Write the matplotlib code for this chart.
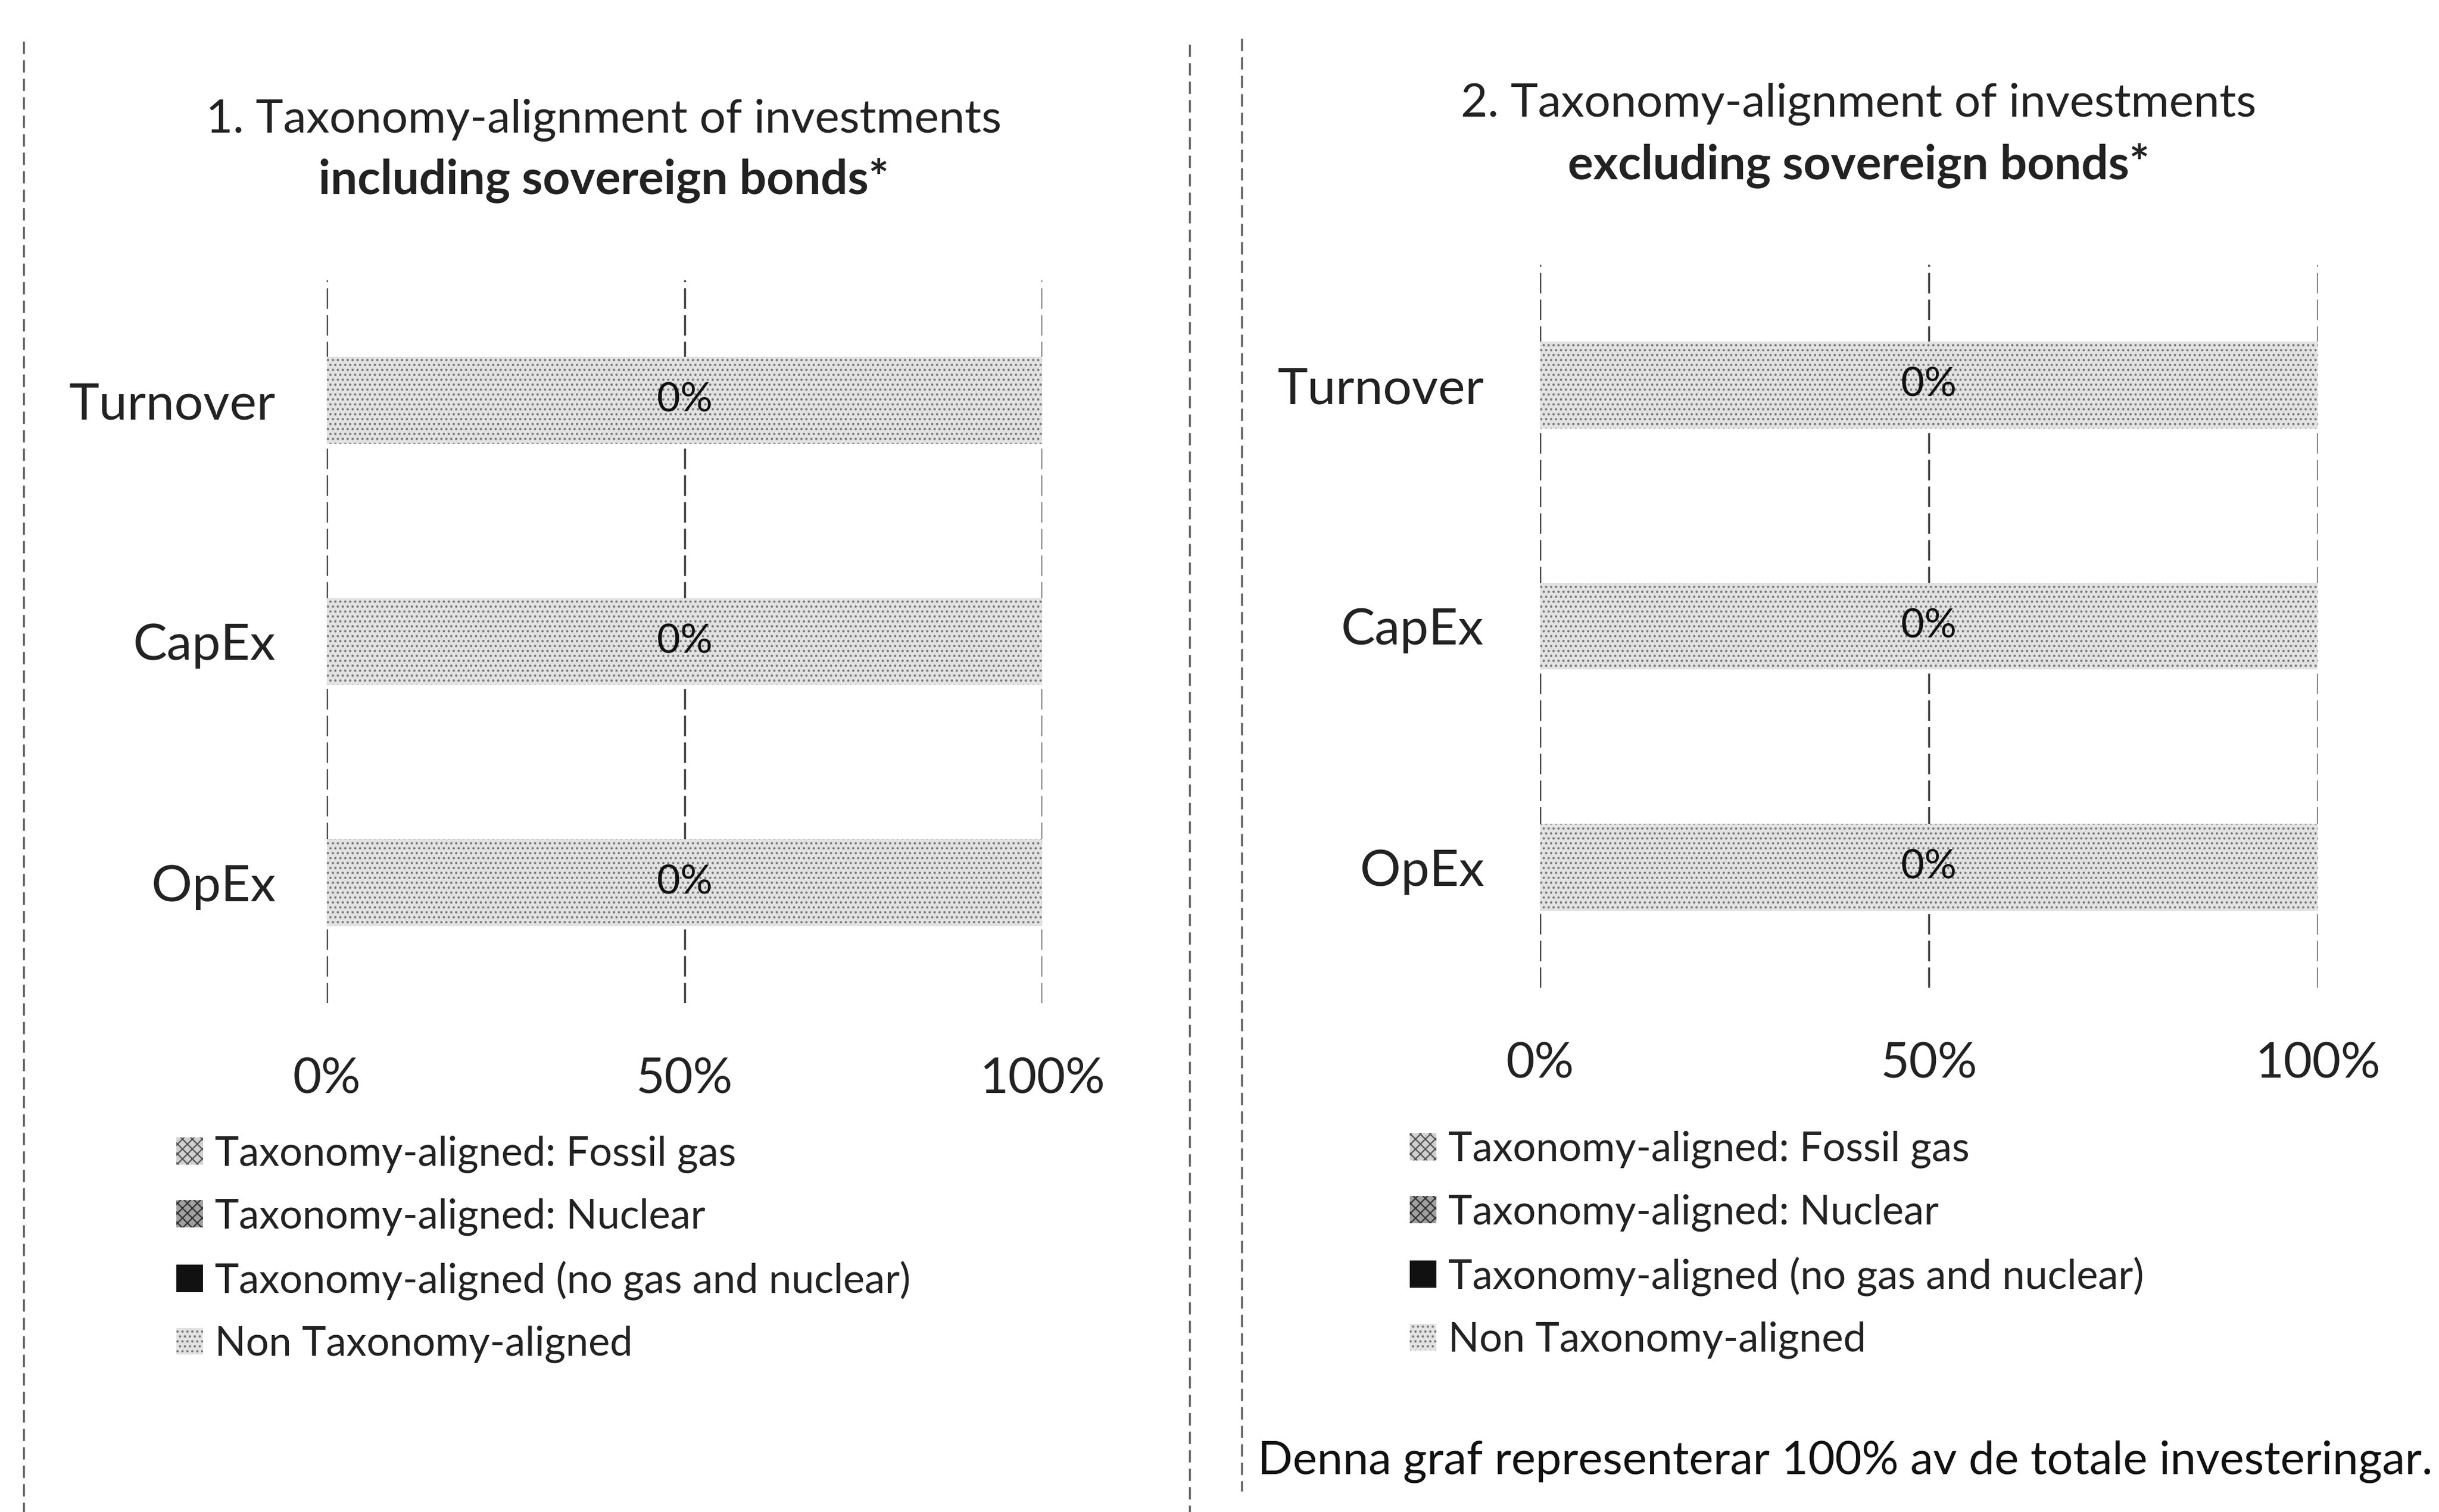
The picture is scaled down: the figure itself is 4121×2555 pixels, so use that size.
import numpy as np
import matplotlib.pyplot as plt
from matplotlib.lines import Line2D

plt.rcParams['font.family'] = ['Lato', 'DejaVu Sans']
plt.rcParams['hatch.linewidth'] = 1.6

categories = ['Turnover', 'CapEx', 'OpEx']
series_names = ['Taxonomy-aligned: Fossil gas', 'Taxonomy-aligned: Nuclear',
                'Taxonomy-aligned (no gas and nuclear)', 'Non Taxonomy-aligned']

# percentages, including sovereign bonds
gas_incl = [0, 0, 0]
nuclear_incl = [0, 0, 0]
aligned_incl = [0, 0, 0]
non_aligned_incl = [100, 100, 100]

# percentages, excluding sovereign bonds
gas_excl = [0, 0, 0]
nuclear_excl = [0, 0, 0]
aligned_excl = [0, 0, 0]
non_aligned_excl = [100, 100, 100]

titles = [('1. Taxonomy-alignment of investments', 'including sovereign bonds*'),
          ('2. Taxonomy-alignment of investments', 'excluding sovereign bonds*')]
xticks = [0, 50, 100]
footer = 'Denna graf representerar 100% av de totale investeringar.'

styles = [dict(facecolor='#d0d0d0', edgecolor='#555555', hatch='xx'),
          dict(facecolor='#a0a0a0', edgecolor='#333333', hatch='xx'),
          dict(facecolor='#111111', edgecolor='#111111', hatch=None),
          dict(facecolor='#e2e2e2', edgecolor='#777777', hatch='..')]

W, H = 4121, 2555
fig = plt.figure(figsize=(W / 100, H / 100), dpi=100)

panels = [
    dict(data=[gas_incl, nuclear_incl, aligned_incl, non_aligned_incl],
         box=[552, 473, 1761, 1695], title=titles[0], tcx=1020, ty=(203, 305),
         leg=(298, 1918), ypad=62),
    dict(data=[gas_excl, nuclear_excl, aligned_excl, non_aligned_excl],
         box=[2602, 447, 3916, 1669], title=titles[1], tcx=3140, ty=(176, 280),
         leg=(2382, 1911), ypad=68),
]

y = np.arange(len(categories))
for p in panels:
    x0, y0, x1, y1 = p['box']
    ax = fig.add_axes([x0 / W, 1 - y1 / H, (x1 - x0) / W, (y1 - y0) / H])
    left = np.zeros(len(categories))
    handles = []
    for vals, name, st in zip(p['data'], series_names, styles):
        b = ax.barh(y, vals, left=left, height=0.36, label=name, linewidth=0, **st)
        handles.append(b)
        left = left + np.array(vals)
    gas, nuc, ali, non = p['data']
    for i in range(len(categories)):
        tot = gas[i] + nuc[i] + ali[i]
        ax.text(left[i] / 2, y[i], f'{tot}%', ha='center', va='center',
                fontsize=49, color='#111111')
    ax.set_xlim(0, 100)
    ax.set_ylim(2.5, -0.5)
    ax.set_yticks(y)
    ax.set_yticklabels(categories, fontsize=62, color='#222222')
    ax.set_xticks(xticks)
    ax.set_xticklabels([f'{v}%' for v in xticks], fontsize=60, color='#222222')
    ax.tick_params(axis='x', length=0, pad=66)
    ax.tick_params(axis='y', length=0, pad=p['ypad'])
    for s in ax.spines.values():
        s.set_visible(False)
    ax.grid(axis='x', color='#444444', linewidth=2.5, linestyle=(0, (10, 3)))
    ax.set_axisbelow(True)

    fig.text(p['tcx'] / W, 1 - p['ty'][0] / H, p['title'][0], ha='center', va='center',
             fontsize=56.5, color='#222222')
    fig.text(p['tcx'] / W, 1 - p['ty'][1] / H, p['title'][1], ha='center', va='center',
             fontsize=58, fontweight='bold', color='#222222')

    lx, ly = p['leg']
    fig.legend(handles=handles, labels=series_names, loc='upper left',
               bbox_to_anchor=(lx / W, 1 - ly / H), frameon=False, fontsize=49.5,
               handlelength=0.65, handleheight=0.65, handletextpad=0.3,
               labelspacing=0.62, borderpad=0, borderaxespad=0, labelcolor='#222222')

fig.text(2125 / W, 1 - 2470 / H, footer, ha='left', va='center', fontsize=56, color='#111111')

# scanned page borders
for xb, yt, yb in [(40, 70, 2555), (2010, 75, 2555), (2098, 65, 2520)]:
    fig.add_artist(Line2D([xb / W, xb / W], [1 - yt / H, 1 - yb / H], color='#666666',
                          linewidth=2.5, linestyle=(0, (6, 3))))

fig.savefig('out.png', dpi=100, facecolor='white')
